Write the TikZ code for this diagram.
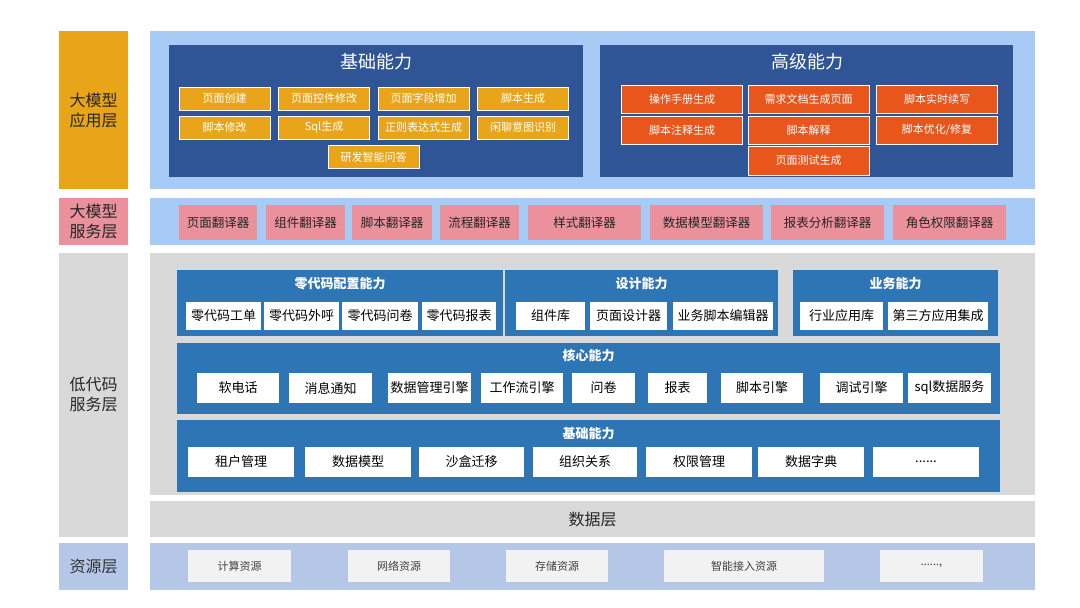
\documentclass[tikz,border=0pt]{standalone}
\usepackage{fontspec}
\setmainfont{Noto Sans CJK SC}
\definecolor{goldfill}{HTML}{E8A51A}
\definecolor{redfill}{HTML}{E8561C}
\definecolor{pinkfill}{HTML}{EA919C}
\definecolor{skyfill}{HTML}{A8CBF6}
\definecolor{navyfill}{HTML}{2F5597}
\definecolor{midblue}{HTML}{2E75B6}
\definecolor{greyfill}{HTML}{D9D9D9}
\definecolor{resfill}{HTML}{B4C7E7}
\definecolor{boxgrey}{HTML}{F2F2F2}
\begin{document}
\begin{tikzpicture}[x=1pt,y=-1pt,
	every node/.style={inner sep=0pt,outer sep=0pt},
	lyr/.style={minimum width=69,align=center,text=black!85,font=\fontsize{16}{20}\selectfont},
	panel/.style={minimum width=885},
	dpanel/.style={fill=navyfill,minimum width=414,minimum height=132},
	dtitle/.style={text=white,font=\fontsize{18}{20}\selectfont},
	obox/.style={fill=goldfill,draw=white,line width=0.8pt,minimum width=91,minimum height=23,text=white,font=\fontsize{11}{13}\selectfont},
	rbox/.style={fill=redfill,draw=white,line width=0.8pt,minimum width=121,minimum height=28,text=white,font=\fontsize{11}{13}\selectfont},
	pbox/.style={fill=pinkfill,minimum height=35,text=black!85,font=\fontsize{12.5}{14}\selectfont},
	bpanel/.style={fill=midblue},
	btitle/.style={text=white,font=\bfseries\fontsize{13}{15}\selectfont},
	wbox/.style={fill=white,minimum height=28,text=black,font=\fontsize{13}{15}\selectfont},
	gbox/.style={fill=boxgrey,minimum height=32,text=black!75,font=\fontsize{11}{13}\selectfont}]
	\useasboundingbox[fill=white] (0,0) rectangle (1080,608);
	%left labels
	\node[lyr,fill=goldfill,minimum height=158] (l1) at (93.5,110) {大模型\\应用层};
	\node[lyr,fill=pinkfill,minimum height=47] (l2) at (93.5,221.5) {大模型\\服务层};
	\node[lyr,fill=greyfill,minimum height=284] (l3) at (93.5,395) {低代码\\服务层};
	\node[lyr,fill=resfill,minimum height=47,text=black!80] (l4) at (93.5,566.5) {资源层};
	%big model application
	\node[panel,fill=skyfill,minimum height=158] (p1) at (592.5,110) {};
	\node[dpanel] (jc) at (376,111) {};
	\node[dtitle] (jct) at (376,62) {基础能力};
	\node[obox] (jc1) at (224.5,98.5) {页面创建};
	\node[obox] (jc2) at (324,98.5) {页面控件修改};
	\node[obox] (jc3) at (423.5,98.5) {页面字段增加};
	\node[obox] (jc4) at (523,98.5) {脚本生成};
	\node[obox] (jc5) at (224.5,127.5) {脚本修改};
	\node[obox] (jc6) at (324,127.5) {Sql生成};
	\node[obox] (jc7) at (423.5,127.5) {正则表达式生成};
	\node[obox] (jc8) at (523,127.5) {闲聊意图识别};
	\node[obox] (jc9) at (373.5,157) {研发智能问答};
	\node[dpanel,minimum width=413] (gj) at (806.5,111) {};
	\node[dtitle] (gjt) at (807,62) {高级能力};
	\node[rbox] (gj1) at (682,99) {操作手册生成};
	\node[rbox] (gj2) at (808.5,99) {需求文档生成页面};
	\node[rbox] (gj3) at (937,99) {脚本实时续写};
	\node[rbox] (gj4) at (682,130) {脚本注释生成};
	\node[rbox] (gj5) at (808.5,130) {脚本解释};
	\node[rbox] (gj6) at (937,130) {脚本优化/修复};
	\node[rbox,minimum height=29] (gj7) at (808.5,160.5) {页面测试生成};
	%big model service
	\node[panel,fill=skyfill,minimum height=47] (p2) at (592.5,221.5) {};
	\node[pbox,minimum width=78] (fy1) at (218,222.5) {页面翻译器};
	\node[pbox,minimum width=79] (fy2) at (305.5,222.5) {组件翻译器};
	\node[pbox,minimum width=80] (fy3) at (392,222.5) {脚本翻译器};
	\node[pbox,minimum width=79] (fy4) at (479.5,222.5) {流程翻译器};
	\node[pbox,minimum width=113] (fy5) at (584.5,222.5) {样式翻译器};
	\node[pbox,minimum width=113] (fy6) at (706.5,222.5) {数据模型翻译器};
	\node[pbox,minimum width=113] (fy7) at (827.5,222.5) {报表分析翻译器};
	\node[pbox,minimum width=113] (fy8) at (949.5,222.5) {角色权限翻译器};
	%low code service
	\node[panel,fill=greyfill,minimum height=242] (p3) at (592.5,374) {};
	\node[bpanel,minimum width=326,minimum height=66] (zc) at (340,303) {};
	\node[btitle] (zct) at (340,284) {零代码配置能力};
	\node[wbox,minimum width=75] (zc1) at (223.5,316) {零代码工单};
	\node[wbox,minimum width=75] (zc2) at (301.5,316) {零代码外呼};
	\node[wbox,minimum width=76] (zc3) at (380,316) {零代码问卷};
	\node[wbox,minimum width=74] (zc4) at (459,316) {零代码报表};
	\node[bpanel,minimum width=273,minimum height=66] (sj) at (641.5,303) {};
	\node[btitle] (sjt) at (641.5,284) {设计能力};
	\node[wbox,minimum width=69] (sj1) at (550.5,316) {组件库};
	\node[wbox,minimum width=77] (sj2) at (628.5,316) {页面设计器};
	\node[wbox,minimum width=100] (sj3) at (723,316) {业务脚本编辑器};
	\node[bpanel,minimum width=205,minimum height=66] (yw) at (895.5,303) {};
	\node[btitle] (ywt) at (895.5,284) {业务能力};
	\node[wbox,minimum width=83] (yw1) at (841.5,316) {行业应用库};
	\node[wbox,minimum width=100] (yw2) at (938,316) {第三方应用集成};
	\node[bpanel,minimum width=823,minimum height=71] (hx) at (588.5,378.5) {};
	\node[btitle] (hxt) at (588.5,356) {核心能力};
	\node[wbox,minimum height=30,minimum width=82] (hx1) at (238,388) {软电话};
	\node[wbox,minimum height=30,minimum width=83] (hx2) at (330.5,388) {消息通知};
	\node[wbox,minimum height=30,minimum width=83] (hx3) at (429.5,388) {数据管理引擎};
	\node[wbox,minimum height=30,minimum width=82] (hx4) at (522,388) {工作流引擎};
	\node[wbox,minimum height=30,minimum width=63] (hx5) at (603.5,388) {问卷};
	\node[wbox,minimum height=30,minimum width=59] (hx6) at (677.5,388) {报表};
	\node[wbox,minimum height=30,minimum width=82] (hx7) at (762,388) {脚本引擎};
	\node[wbox,minimum height=30,minimum width=83] (hx8) at (861.5,388) {调试引擎};
	\node[wbox,minimum height=30,minimum width=83] (hx9) at (949.5,388) {sql数据服务};
	\node[bpanel,minimum width=823,minimum height=72] (jb) at (588.5,456) {};
	\node[btitle] (jbt) at (588.5,434) {基础能力};
	\node[wbox,minimum height=30,minimum width=106] (jb1) at (241,462) {租户管理};
	\node[wbox,minimum height=30,minimum width=106] (jb2) at (358,462) {数据模型};
	\node[wbox,minimum height=30,minimum width=105] (jb3) at (471.5,462) {沙盒迁移};
	\node[wbox,minimum height=30,minimum width=104] (jb4) at (585,462) {组织关系};
	\node[wbox,minimum height=30,minimum width=106] (jb5) at (699,462) {权限管理};
	\node[wbox,minimum height=30,minimum width=106] (jb6) at (811,462) {数据字典};
	\node[wbox,minimum height=30,minimum width=106] (jb7) at (926,462) {......};
	%data layer
	\node[panel,fill=greyfill,minimum height=36,text=black!85,font=\fontsize{16}{18}\selectfont] (p4) at (592.5,519) {数据层};
	%resource layer
	\node[panel,fill=resfill,minimum height=47] (p5) at (592.5,566.5) {};
	\node[gbox,minimum width=103] (zy1) at (239.5,566) {计算资源};
	\node[gbox,minimum width=102] (zy2) at (399,566) {网络资源};
	\node[gbox,minimum width=102] (zy3) at (557,566) {存储资源};
	\node[gbox,minimum width=160] (zy4) at (744,566) {智能接入资源};
	\node[gbox,minimum width=103] (zy5) at (931.5,566) {......,};
\end{tikzpicture}
\end{document}
